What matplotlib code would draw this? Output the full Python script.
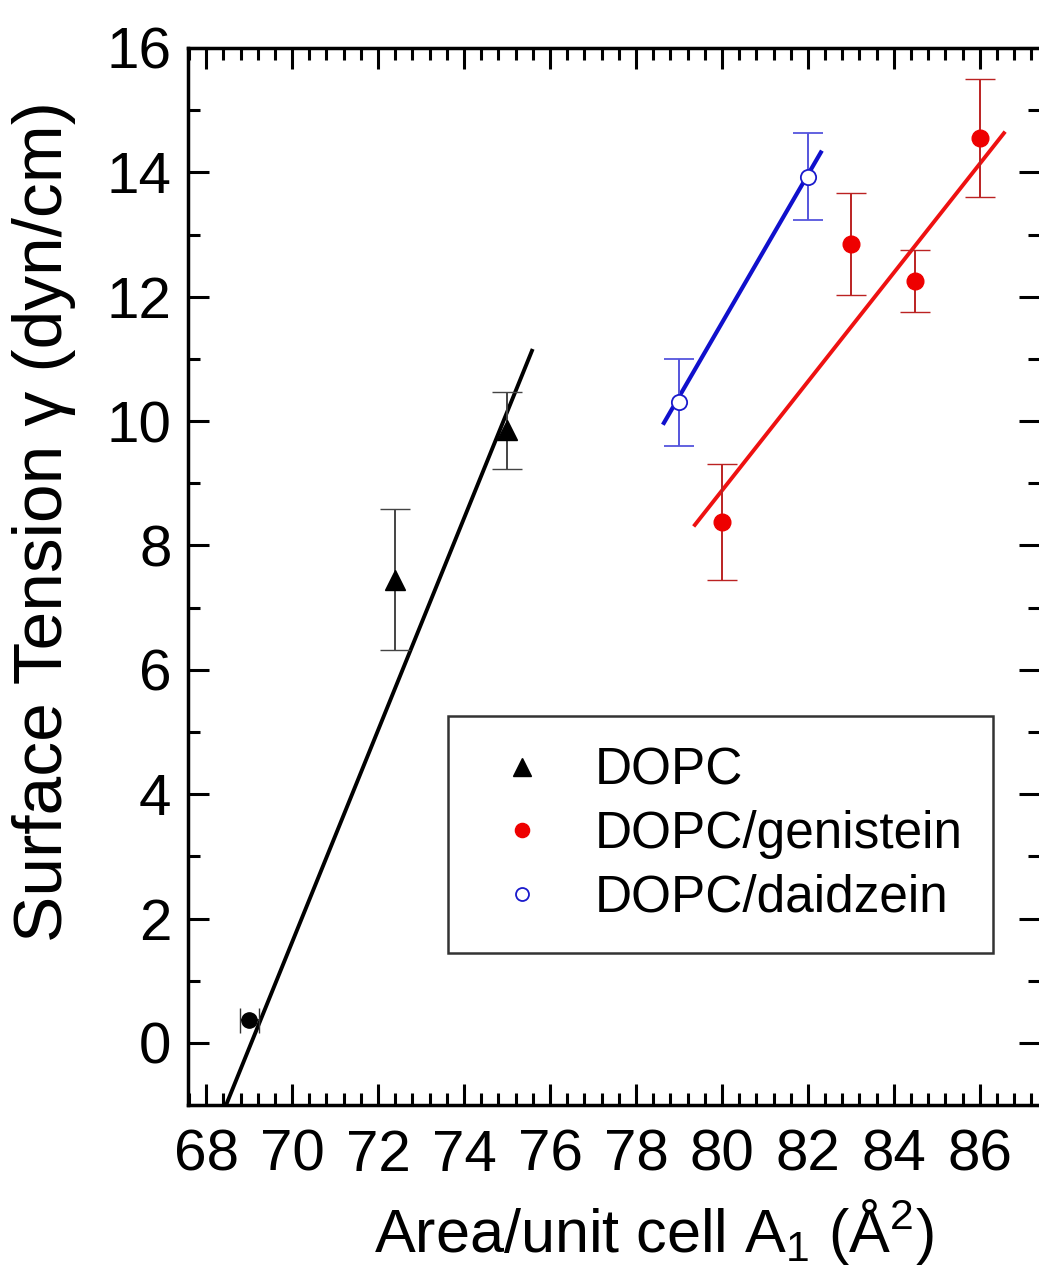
import matplotlib
matplotlib.use("Agg")
import matplotlib.pyplot as plt
from matplotlib.ticker import MultipleLocator

plt.rcParams['font.family'] = ['Liberation Sans', 'DejaVu Sans']
plt.rcParams['mathtext.fontset'] = 'custom'
plt.rcParams['mathtext.rm'] = 'Liberation Sans'
plt.rcParams['mathtext.it'] = 'Liberation Sans:italic'

# DOPC (triangulos)
dopc_x = [72.4, 75.0]
dopc_y = [7.45, 9.85]
dopc_err = [1.13, 0.62]

# punto de referencia a tension ~0
ref_x = [69.0]
ref_y = [0.37]
ref_xerr = [0.22]

# DOPC/genistein
gen_x = [80.0, 83.0, 84.5, 86.0]
gen_y = [8.38, 12.85, 12.25, 14.55]
gen_err = [0.93, 0.82, 0.5, 0.95]

# DOPC/daidzein
dai_x = [79.0, 82.0]
dai_y = [10.3, 13.93]
dai_err = [0.7, 0.7]

# rectas de ajuste (extremos)
fit_dopc_x = [68.2, 75.58]
fit_dopc_y = [-1.45, 11.13]
fit_gen_x = [79.37, 86.56]
fit_gen_y = [8.33, 14.63]
fit_dai_x = [78.65, 82.3]
fit_dai_y = [9.97, 14.32]

fig = plt.figure(figsize=(10.39, 12.86), dpi=100)
ax = fig.add_axes([0.181, 0.1407, 0.82, 0.822])

ax.plot(fit_dopc_x, fit_dopc_y, color="black", lw=2.8, zorder=2)
ax.plot(fit_gen_x, fit_gen_y, color="#ee1111", lw=2.8, zorder=2)
ax.plot(fit_dai_x, fit_dai_y, color="#1010cc", lw=3.0, zorder=2)

ax.errorbar(ref_x, ref_y, xerr=ref_xerr, fmt="o", color="black", ms=11,
            ecolor="#333333", elinewidth=1.4, capsize=9, zorder=3)
ax.errorbar(dopc_x, dopc_y, yerr=dopc_err, fmt="^", color="black", ms=15,
            ecolor="#444444", elinewidth=1.4, capsize=11, zorder=3, label="DOPC")
ax.errorbar(gen_x, gen_y, yerr=gen_err, fmt="o", color="#ee0000", ms=12,
            ecolor="#bb2222", elinewidth=1.4, capsize=11, zorder=3, label="DOPC/genistein")
ax.errorbar(dai_x, dai_y, yerr=dai_err, fmt="o", mfc="white", mec="#1a1acc", mew=1.3, ms=11,
            ecolor="#5555dd", elinewidth=1.4, capsize=11, zorder=3, label="DOPC/daidzein")

ax.set_xlim(67.58, 87.4)
ax.set_ylim(-1, 16)
ax.xaxis.set_major_locator(MultipleLocator(2))
ax.xaxis.set_minor_locator(MultipleLocator(0.4))
ax.yaxis.set_major_locator(MultipleLocator(2))
ax.yaxis.set_minor_locator(MultipleLocator(1))
ax.tick_params(which="both", direction="in", top=True, right=True, width=2.2, labelsize=42)
ax.tick_params(which="major", length=15)
ax.tick_params(which="minor", length=8.5)
ax.tick_params(axis="x", which="major", pad=17)
ax.tick_params(axis="y", which="major", pad=12)
for s in ax.spines.values():
    s.set_linewidth(2.5)

ax.set_xlabel(r"Area/unit cell A$_\mathregular{1}$ (Å$^\mathregular{2}$)", fontsize=44)
ax.set_ylabel("Surface Tension γ (dyn/cm)", fontsize=50)
ax.xaxis.set_label_coords(0.547, -0.087)
ax.yaxis.set_label_coords(-0.131, 0.552)

# leyenda solo con marcadores
h, l = ax.get_legend_handles_labels()
handles = [hh[0] for hh in h]
leg = ax.legend(handles, l, loc="upper left", bbox_to_anchor=(0.305, 0.368),
                fontsize=37, frameon=True, fancybox=False, edgecolor="black",
                handlelength=1.7, handletextpad=0.55, borderpad=0.6, labelspacing=0.28,
                markerscale=0.85, borderaxespad=0)
leg.get_frame().set_linewidth(1.8)

plt.savefig("out.png", dpi=100)
